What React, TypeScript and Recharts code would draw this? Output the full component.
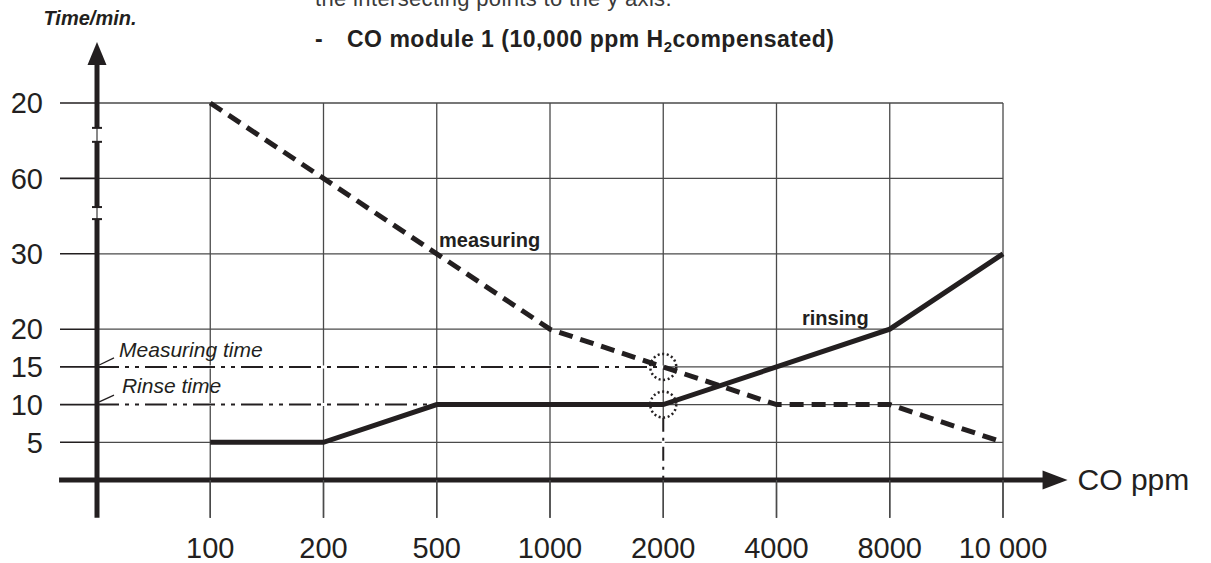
import React from "react";
import {
  ComposedChart,
  Line,
  XAxis,
  YAxis,
  CartesianGrid,
  ReferenceLine,
  ReferenceDot,
} from "recharts";

const concentrations = ["100", "200", "500", "1000", "2000", "4000", "8000", "10 000"];
const measuringMinutes = [120, 60, 30, 20, 15, 10, 10, 5];
const rinsingMinutes = [5, 5, 10, 10, 10, 15, 20, 30];
const timeTicks = [5, 10, 15, 20, 30, 60, 120];
const timeTickLabels = ["5", "10", "15", "20", "30", "60", "20"];

const measuringTime = 15;
const rinseTime = 10;
const readAtIndex = 4; // 2000 ppm

const INK = "#231f20";
const GRID = "#4a4a4a";
const FONT = "'Liberation Sans', Arial, Helvetica, sans-serif";

// broken time axis: 5 min steps up to 20, then 30 / 60 / 120 two steps apart
const AXIS_STOPS = [
  [0, 0],
  [20, 4],
  [30, 6],
  [60, 8],
  [120, 10],
];

function toAxis(min: number) {
  for (let i = 1; i < AXIS_STOPS.length; i++) {
    const [m0, p0] = AXIS_STOPS[i - 1];
    const [m1, p1] = AXIS_STOPS[i];
    if (min <= m1) return p0 + ((min - m0) / (m1 - m0)) * (p1 - p0);
  }
  return AXIS_STOPS[AXIS_STOPS.length - 1][1];
}

const data = concentrations.map((c, i) => ({
  idx: i,
  ppm: c,
  measuring: toAxis(measuringMinutes[i]),
  rinsing: toAxis(rinsingMinutes[i]),
}));

const yTicks = timeTicks.map(toAxis);

const axisPiece =
  (capStart: boolean, capEnd: boolean) =>
  (p: any) => {
    const { x1, y1, x2, y2 } = p;
    return (
      <g>
        <line x1={x1} y1={y1} x2={x2} y2={y2} stroke={INK} strokeWidth={5} />
        {capStart && <line x1={x1 - 5} x2={x1 + 5} y1={y1} y2={y1} stroke={INK} strokeWidth={2} />}
        {capEnd && <line x1={x2 - 5} x2={x2 + 5} y1={y2} y2={y2} stroke={INK} strokeWidth={2} />}
      </g>
    );
  };

const yArrow = (p: any) => {
  const { x1, y1, x2, y2 } = p;
  return (
    <g>
      <line x1={x1} y1={y1} x2={x2} y2={y2 + 22} stroke={INK} strokeWidth={5} />
      <line x1={x1 - 5} x2={x1 + 5} y1={y1} y2={y1} stroke={INK} strokeWidth={2} />
      <polygon points={`${x2},${y2} ${x2 - 9.5},${y2 + 23} ${x2 + 9.5},${y2 + 23}`} fill={INK} />
      <text
        x={x2 - 7}
        y={y2 - 17}
        textAnchor="middle"
        fontFamily={FONT}
        fontSize={20}
        fontWeight="bold"
        fontStyle="italic"
        fill={INK}
      >
        Time/min.
      </text>
    </g>
  );
};

const xArrow = (p: any) => {
  const { x1, y1, x2, y2 } = p;
  return (
    <g>
      <line x1={x1} y1={y1} x2={x2 - 24} y2={y2} stroke={INK} strokeWidth={5} />
      <polygon points={`${x2},${y2} ${x2 - 25},${y2 - 9.5} ${x2 - 25},${y2 + 9.5}`} fill={INK} />
      <text x={x2 + 10} y={y2 + 10} fontFamily={FONT} fontSize={30} fill={INK}>
        CO ppm
      </text>
    </g>
  );
};

const label =
  (text: string, opts: { size: number; bold?: boolean; italic?: boolean }) =>
  (p: any) =>
    (
      <text
        x={p.cx}
        y={p.cy}
        fontFamily={FONT}
        fontSize={opts.size}
        fontWeight={opts.bold ? "bold" : "normal"}
        fontStyle={opts.italic ? "italic" : "normal"}
        fill={INK}
      >
        {text}
      </text>
    );

const dottedCircle = (p: any) => (
  <circle
    cx={p.cx}
    cy={p.cy}
    r={13}
    fill="none"
    stroke={INK}
    strokeWidth={2.5}
    strokeDasharray="2 2.6"
  />
);

const DASH_DOT = "22 6 4 6 4 6";

function guide(x1: number, y1: number, x2: number, y2: number, dash: string) {
  return [
    <ReferenceLine
      key={`w${x1}${y1}${x2}${y2}`}
      segment={[{ x: x1, y: y1 }, { x: x2, y: y2 }]}
      stroke="#fff"
      strokeWidth={3}
      ifOverflow="visible"
    />,
    <ReferenceLine
      key={`k${x1}${y1}${x2}${y2}`}
      segment={[{ x: x1, y: y1 }, { x: x2, y: y2 }]}
      stroke={INK}
      strokeWidth={2}
      strokeDasharray={dash}
      ifOverflow="visible"
    />,
  ];
}

export default function App() {
  return (
    <div style={{ position: "absolute", left: 0, top: 0, width: 1211, height: 563, background: "#fff" }}>
      <svg
        width={1211}
        height={563}
        style={{ position: "absolute", left: 0, top: 0, pointerEvents: "none" }}
      >
        <text x={315} y={6} fontFamily={FONT} fontSize={22} letterSpacing={0.35} fill="#3a3a3a">
          the intersecting points to the y axis.
        </text>
        <text x={315} y={47} fontFamily={FONT} fontSize={23} fontWeight="bold" fill={INK}>
          -
        </text>
        <text x={347} y={47} fontFamily={FONT} fontSize={23} fontWeight="bold" letterSpacing={0.5} fill={INK}>
          CO module 1 (10,000 ppm H
          <tspan fontSize={15} dy={5}>
            2
          </tspan>
          <tspan dy={-5}>compensated)</tspan>
        </text>
      </svg>
      <div style={{ position: "absolute", left: 0, top: 0 }}>
        <ComposedChart
          width={1211}
          height={563}
          data={data}
          margin={{ top: 103, right: 208, bottom: 0, left: 0 }}
        >
          <CartesianGrid stroke={GRID} strokeWidth={1.3} />
          <XAxis
            dataKey="idx"
            type="number"
            domain={[-1, 7]}
            ticks={data.map((d) => d.idx)}
            tickFormatter={(v: number) => concentrations[v] ?? ""}
            height={83}
            axisLine={false}
            tickSize={38}
            tickMargin={19}
            tickLine={{ stroke: GRID, strokeWidth: 1.3 }}
            tick={{ fill: INK, fontSize: 29, fontFamily: FONT }}
            interval={0}
          />
          <YAxis
            type="number"
            domain={[0, 10]}
            ticks={yTicks}
            tickFormatter={(v: number) => timeTickLabels[yTicks.indexOf(v)] ?? ""}
            width={97}
            axisLine={false}
            tickSize={37}
            tickMargin={17}
            tickLine={{ stroke: INK, strokeWidth: 1.6 }}
            tick={{ fill: INK, fontSize: 29, fontFamily: FONT }}
            interval={0}
          />

          {/* tick marks below the x axis */}
          {data.map((d) => (
            <ReferenceLine
              key={`t${d.idx}`}
              segment={[{ x: d.idx, y: 0 }, { x: d.idx, y: -1 }]}
              stroke={GRID}
              strokeWidth={1.5}
              ifOverflow="visible"
            />
          ))}

          {guide(-1, toAxis(measuringTime), readAtIndex, toAxis(measuringTime), DASH_DOT)}
          {guide(-1, toAxis(rinseTime), readAtIndex, toAxis(rinseTime), DASH_DOT)}
          {guide(readAtIndex, toAxis(rinseTime) - 0.35, readAtIndex, 0, "14 6 3 6")}

          <Line
            dataKey="measuring"
            type="linear"
            stroke={INK}
            strokeWidth={5}
            strokeDasharray="14 8"
            dot={false}
            activeDot={false}
            isAnimationActive={false}
          />
          <Line
            dataKey="rinsing"
            type="linear"
            stroke={INK}
            strokeWidth={5}
            dot={false}
            activeDot={false}
            isAnimationActive={false}
          />

          <ReferenceDot x={readAtIndex} y={toAxis(measuringTime)} ifOverflow="visible" shape={dottedCircle} />
          <ReferenceDot x={readAtIndex} y={toAxis(rinseTime)} ifOverflow="visible" shape={dottedCircle} />

          {/* broken y axis with arrow */}
          <ReferenceLine
            segment={[{ x: -1, y: -1 }, { x: -1, y: 6.92 }]}
            ifOverflow="visible"
            shape={axisPiece(false, true)}
          />
          <ReferenceLine
            segment={[{ x: -1, y: 7.24 }, { x: -1, y: 8.97 }]}
            ifOverflow="visible"
            shape={axisPiece(true, true)}
          />
          <ReferenceLine
            segment={[{ x: -1, y: 9.34 }, { x: -1, y: 11.62 }]}
            ifOverflow="visible"
            shape={yArrow}
          />
          <ReferenceLine
            segment={[{ x: -1.335, y: 0 }, { x: 7.57, y: 0 }]}
            ifOverflow="visible"
            shape={xArrow}
          />

          {/* annotations */}
          <ReferenceLine
            segment={[{ x: -0.98, y: 3.05 }, { x: -0.85, y: 3.24 }]}
            stroke={INK}
            strokeWidth={1.3}
            ifOverflow="visible"
          />
          <ReferenceLine
            segment={[{ x: -0.98, y: 2.07 }, { x: -0.85, y: 2.25 }]}
            stroke={INK}
            strokeWidth={1.3}
            ifOverflow="visible"
          />
          <ReferenceDot x={-0.805} y={3.26} ifOverflow="visible" shape={label("Measuring time", { size: 21, italic: true })} />
          <ReferenceDot x={-0.78} y={2.31} ifOverflow="visible" shape={label("Rinse time", { size: 21, italic: true })} />
          <ReferenceDot x={2.02} y={6.18} ifOverflow="visible" shape={label("measuring", { size: 20, bold: true })} />
          <ReferenceDot x={5.225} y={4.11} ifOverflow="visible" shape={label("rinsing", { size: 20, bold: true })} />
        </ComposedChart>
      </div>
    </div>
  );
}
